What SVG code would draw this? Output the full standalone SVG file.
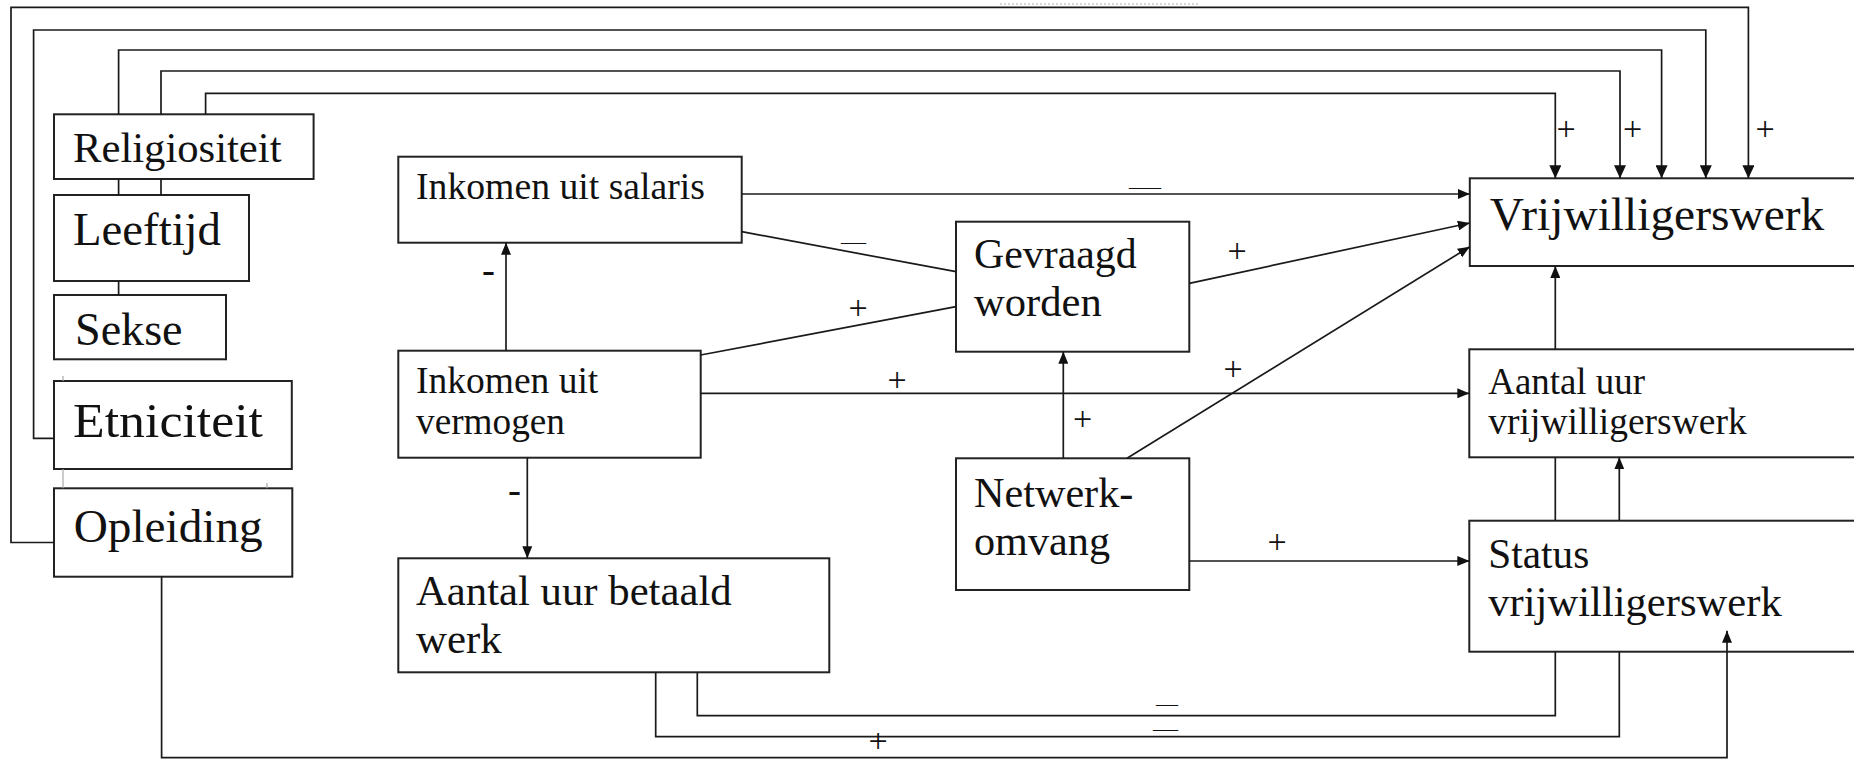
<svg xmlns="http://www.w3.org/2000/svg" width="1854" height="759" viewBox="0 0 1854 759">
<style>
.box{fill:#fff;stroke:#222;stroke-width:2}
.t{font-family:"Liberation Serif","Times New Roman","DejaVu Serif",serif;fill:#111}
.c{fill:none;stroke:#1a1a1a;stroke-width:1.7}
.a{marker-end:url(#ah)}
.aL{marker-end:url(#ahL)}
.lbl{font-family:"Liberation Serif","Times New Roman","DejaVu Serif",serif;fill:#111;font-size:34px;text-anchor:middle}
.dash{font-family:"Liberation Serif","Times New Roman","DejaVu Serif",serif;fill:#111;font-size:22px}
.hy{font-family:"Liberation Serif","Times New Roman","DejaVu Serif",serif;fill:#111;font-size:36px;font-weight:bold}
.faint{fill:none;stroke:#aaa;stroke-width:1.2}
</style>
<defs>
<marker id="ah" viewBox="0 0 12 10" refX="12" refY="5" markerWidth="12" markerHeight="10" markerUnits="userSpaceOnUse" orient="auto"><path d="M0,0 L12,5 L0,10 z" fill="#111"/></marker>
<marker id="ahL" viewBox="0 0 13 12" refX="13" refY="6" markerWidth="13" markerHeight="12" markerUnits="userSpaceOnUse" orient="auto"><path d="M0,0 L13,6 L0,12 z" fill="#111"/></marker>
</defs>
<rect width="1854" height="759" fill="#fff"/>

<g id="nodes">
<g id="religiositeit"><rect class="box" x="54" y="114.3" width="259.6" height="64.7"/><text class="t" x="73" y="162.3" font-size="42" textLength="208.5" lengthAdjust="spacingAndGlyphs">Religiositeit</text></g>
<g id="leeftijd"><rect class="box" x="54" y="195" width="195" height="86"/><text class="t" x="73" y="245" font-size="47" textLength="148" lengthAdjust="spacingAndGlyphs">Leeftijd</text></g>
<g id="sekse"><rect class="box" x="54" y="295" width="172" height="64.3"/><text class="t" x="75" y="345" font-size="46" textLength="107.6" lengthAdjust="spacingAndGlyphs">Sekse</text></g>
<g id="etniciteit"><rect class="box" x="54" y="381" width="237.8" height="88"/><text class="t" x="73" y="436.7" font-size="48" textLength="190" lengthAdjust="spacingAndGlyphs">Etniciteit</text></g>
<g id="opleiding"><rect class="box" x="54" y="488.3" width="238.3" height="88.4"/><text class="t" x="73.7" y="541.7" font-size="47" textLength="189" lengthAdjust="spacingAndGlyphs">Opleiding</text></g>
<g id="salaris"><rect class="box" x="398.3" y="156.7" width="343.4" height="86"/><text class="t" x="416" y="199.3" font-size="37" textLength="289" lengthAdjust="spacingAndGlyphs">Inkomen uit salaris</text></g>
<g id="vermogen"><rect class="box" x="398.3" y="350.7" width="302.4" height="107"/><text class="t" x="416" y="393.3" font-size="37" textLength="182.3" lengthAdjust="spacingAndGlyphs">Inkomen uit</text><text class="t" x="416" y="434.3" font-size="37" textLength="149" lengthAdjust="spacingAndGlyphs">vermogen</text></g>
<g id="betaald"><rect class="box" x="398.3" y="558.3" width="431" height="114"/><text class="t" x="416" y="605" font-size="42.5" textLength="315.7" lengthAdjust="spacingAndGlyphs">Aantal uur betaald</text><text class="t" x="416" y="653.3" font-size="42.5" textLength="85.7" lengthAdjust="spacingAndGlyphs">werk</text></g>
<g id="gevraagd"><rect class="box" x="956" y="221.7" width="233.3" height="130"/><text class="t" x="974" y="268.3" font-size="42" textLength="162.7" lengthAdjust="spacingAndGlyphs">Gevraagd</text><text class="t" x="974" y="315.7" font-size="42" textLength="127.7" lengthAdjust="spacingAndGlyphs">worden</text></g>
<g id="netwerk"><rect class="box" x="956" y="458.3" width="233.3" height="131.7"/><text class="t" x="974" y="506.7" font-size="42" textLength="159.3" lengthAdjust="spacingAndGlyphs">Netwerk-</text><text class="t" x="974" y="554.5" font-size="42" textLength="136" lengthAdjust="spacingAndGlyphs">omvang</text></g>
<g id="vrijwilligerswerk"><rect class="box" x="1469.8" y="178.3" width="400" height="87.7"/><text class="t" x="1489.8" y="230" font-size="46" textLength="334.5" lengthAdjust="spacingAndGlyphs">Vrijwilligerswerk</text></g>
<g id="aantal-uur"><rect class="box" x="1469.3" y="349.3" width="400" height="108"/><text class="t" x="1488.3" y="394.3" font-size="37" textLength="156.7" lengthAdjust="spacingAndGlyphs">Aantal uur</text><text class="t" x="1488.3" y="434.3" font-size="37" textLength="258.4" lengthAdjust="spacingAndGlyphs">vrijwilligerswerk</text></g>
<g id="status"><rect class="box" x="1469.3" y="520.7" width="400" height="131"/><text class="t" x="1488.3" y="568.3" font-size="42" textLength="101" lengthAdjust="spacingAndGlyphs">Status</text><text class="t" x="1488.3" y="616" font-size="42" textLength="293.4" lengthAdjust="spacingAndGlyphs">vrijwilligerswerk</text></g>
</g>

<g id="connectors">
<path class="c aL" d="M205.6,114.3 V93.3 H1555.3 V178.3"/>
<path class="c aL" d="M161,195 V179 M161,114.3 V71 H1620 V178.3"/>
<path class="c aL" d="M118.6,295 V281 M118.6,195 V179 M118.6,114.3 V50 H1661.6 V178.3"/>
<path class="c aL" d="M54,438.3 H33.6 V30 H1705.8 V178.3"/>
<path class="c aL" d="M54,542.5 H11 V7.3 H1748.4 V178.3"/>
<path class="c a" d="M741.7,194 H1469.8"/>
<path class="c" d="M741.7,231.7 L956,271.7"/>
<path class="c a" d="M506,350.7 V242.7"/>
<path class="c" d="M700.7,355 L956,306.7"/>
<path class="c a" d="M700.7,393.3 H1469.3"/>
<path class="c a" d="M527.3,457.7 V558.3"/>
<path class="c a" d="M1189.3,283.3 L1469.8,223"/>
<path class="c a" d="M1063.3,458.3 V351.7"/>
<path class="c a" d="M1127,458.3 L1469.8,246.7"/>
<path class="c a" d="M1189.3,561 H1469.3"/>
<path class="c a" d="M697.3,672.3 V715.7 H1555.3 V651.7 M1555.3,520.7 V457.3 M1555.3,349.3 V266"/>
<path class="c a" d="M655.7,672.3 V736.7 H1619.3 V651.7 M1619.3,520.7 V457.3"/>
<path class="c a" d="M161.6,576.7 V757.7 H1727 V630.7"/>
<path class="faint" d="M63,376 V381 M63,469 V488.3 M267,483 V488.3"/>
<path class="faint" stroke-dasharray="2 2" d="M1000,4 H1200"/>
</g>

<g id="labels">
<text class="lbl" x="1566" y="140">+</text>
<text class="lbl" x="1632.5" y="140">+</text>
<text class="lbl" x="1765" y="140">+</text>
<text class="lbl" x="1237" y="261.5">+</text>
<text class="lbl" x="858" y="319">+</text>
<text class="lbl" x="897" y="391">+</text>
<text class="lbl" x="1082.7" y="430">+</text>
<text class="lbl" x="1233" y="379.5">+</text>
<text class="lbl" x="1277" y="552.5">+</text>
<text class="lbl" x="878" y="752" font-size="28">+</text>
<text class="dash" x="1129" y="193.5" textLength="32" lengthAdjust="spacingAndGlyphs">—</text>
<text class="dash" x="841" y="248.5" textLength="25" lengthAdjust="spacingAndGlyphs">—</text>
<text class="dash" x="1156" y="710.5" textLength="22" lengthAdjust="spacingAndGlyphs">—</text>
<text class="dash" x="1153" y="735.5" textLength="25" lengthAdjust="spacingAndGlyphs">—</text>
<text class="hy" x="482" y="282" textLength="13" lengthAdjust="spacingAndGlyphs">-</text>
<text class="hy" x="508" y="502" textLength="13" lengthAdjust="spacingAndGlyphs">-</text>
</g>
</svg>
